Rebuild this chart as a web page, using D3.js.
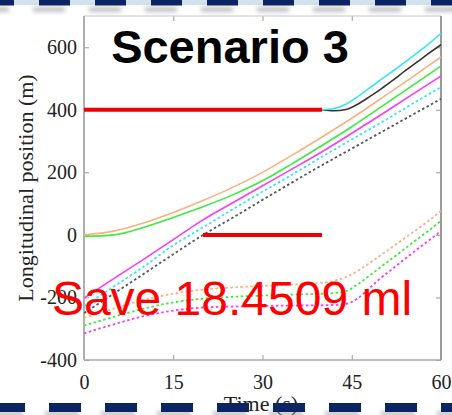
<!DOCTYPE html>
<html>
<head>
<meta charset="utf-8">
<script src="https://cdn.jsdelivr.net/npm/d3@7"></script>
<style>
  html, body { margin: 0; padding: 0; background: #fff; }
  svg { display: block; }
</style>
</head>
<body>
<div id="chart"></div>
<script>
// time grids (s)
const tMain = [0, 5, 10, 15, 20, 25, 30, 35, 40, 45, 50, 55, 60];
const tMerge = [40, 42, 44, 46, 48, 50, 52, 54, 56, 58, 60];
const tLow = [0, 5, 10, 15, 20, 25, 30, 35, 40, 42, 44, 46, 48, 50, 52, 54, 56, 58, 60];

// longitudinal positions (m)
const orangeSolid = [0, 12, 38, 72, 110, 152, 200, 255, 313, 373, 437, 502, 569];
const greenSolid = [-5, 0, 24, 56, 90, 128, 173, 228, 286, 346, 410, 475, 540];
const magentaSolid = [-202, -140, -78, -15, 48, 103, 157, 211, 266, 325, 385, 447, 508];
const cyanDotted = [-228, -165, -102, -33, 24, 82, 138, 193, 250, 305, 360, 417, 473];
const blackDotted = [-250, -188, -125, -62, 0, 55, 112, 168, 223, 276, 329, 382, 435];

const cyanSolid = [400, 404, 418, 442, 470, 498, 525, 553, 582, 612, 645];
const blackSolid = [400, 397, 401, 418, 442, 468, 496, 525, 553, 581, 608];

const orangeDotted = [-265, -236, -208, -188, -175, -168, -163, -159, -153, -147, -135, -115, -90, -63, -36, -9, 18, 46, 77];
const greenDotted = [-290, -262, -236, -216, -204, -198, -194, -191, -188, -186, -180, -158, -130, -101, -72, -43, -14, 15, 45];
const magentaDotted = [-315, -286, -260, -242, -232, -229, -227, -226, -225, -224, -221, -203, -170, -136, -106, -76, -46, -17, 12];

// red reference segments
const redTopT = [0, 40];
const redTopV = [400, 400];
const redLowT = [20, 40];
const redLowV = [0, 0];

const xTicks = [0, 15, 30, 45, 60];
const yTicks = [-400, -200, 0, 200, 400, 600];

const width = 452, height = 415;
const margin = {top: 16, right: 11, bottom: 55, left: 84};

const svg = d3.select('#chart').append('svg')
  .attr('width', width)
  .attr('height', height);

const defs = svg.append('defs');
defs.append('clipPath').attr('id', 'plotclip')
  .append('rect')
  .attr('x', margin.left).attr('y', margin.top)
  .attr('width', width - margin.left - margin.right)
  .attr('height', height - margin.top - margin.bottom);
defs.append('filter').attr('id', 'blur')
  .attr('x', '-50%').attr('y', '-100%').attr('width', '200%').attr('height', '300%')
  .append('feGaussianBlur').attr('stdDeviation', 2);

const x = d3.scaleLinear().domain([0, 60]).range([margin.left, width - margin.right]);
const y = d3.scaleLinear().domain([-400, 700]).range([height - margin.bottom, margin.top]);

// axes (MATLAB style, ticks inside)
const serif = '"Liberation Serif", "Times New Roman", serif';
const fmt = d => String(d);

const xAxis = svg.append('g')
  .attr('transform', `translate(0,${y(-400)})`)
  .call(d3.axisBottom(x).tickValues(xTicks).tickFormat(fmt).tickSizeInner(-5).tickSizeOuter(0).tickPadding(15));
const yAxis = svg.append('g')
  .attr('transform', `translate(${x(0)},0)`)
  .call(d3.axisLeft(y).tickValues(yTicks).tickFormat(fmt).tickSizeInner(-5).tickSizeOuter(0).tickPadding(7));
const xTop = svg.append('g')
  .attr('transform', `translate(0,${y(700)})`)
  .call(d3.axisTop(x).tickValues(xTicks).tickSizeInner(-5).tickSizeOuter(0).tickFormat(''));
const yRight = svg.append('g')
  .attr('transform', `translate(${x(60)},0)`)
  .call(d3.axisRight(y).tickValues(yTicks).tickSizeInner(-5).tickSizeOuter(0).tickFormat(''));

[xAxis, yAxis, xTop, yRight].forEach(a => {
  a.select('.domain').remove();
  a.selectAll('.tick line').attr('stroke', '#999').attr('stroke-width', 1);
  a.selectAll('.tick text')
    .attr('fill', '#222')
    .style('font-family', serif)
    .style('font-size', '20px');
});

// box
svg.append('line').attr('x1', x(0)).attr('x2', x(60)).attr('y1', y(700)).attr('y2', y(700))
  .attr('stroke', '#c8c8c8').attr('stroke-width', 1);
svg.append('line').attr('x1', x(0)).attr('x2', x(60)).attr('y1', y(-400)).attr('y2', y(-400))
  .attr('stroke', '#aaa').attr('stroke-width', 1.5);
svg.append('line').attr('x1', x(0)).attr('x2', x(0)).attr('y1', y(700)).attr('y2', y(-400))
  .attr('stroke', '#b0b0b0').attr('stroke-width', 2);
svg.append('line').attr('x1', x(60)).attr('x2', x(60)).attr('y1', y(700)).attr('y2', y(-400))
  .attr('stroke', '#999').attr('stroke-width', 2);

// lines
const plot = svg.append('g').attr('clip-path', 'url(#plotclip)');
const line = d3.line().x(d => x(d[0])).y(d => y(d[1])).curve(d3.curveMonotoneX);

const series = [
  {t: tLow, v: orangeDotted, color: '#f7b282', dash: '2.5,2.5'},
  {t: tLow, v: greenDotted, color: '#3dea3d', dash: '2.5,2.5'},
  {t: tLow, v: magentaDotted, color: '#f53ef5', dash: '2.5,2.5'},
  {t: tMain, v: blackDotted, color: '#555', dash: '2.5,2.5'},
  {t: tMain, v: cyanDotted, color: '#35e6f2', dash: '2.5,2.5'},
  {t: tMain, v: magentaSolid, color: '#f53ef5', dash: null},
  {t: tMain, v: greenSolid, color: '#3dea3d', dash: null},
  {t: tMain, v: orangeSolid, color: '#f7b282', dash: null},
  {t: tMerge, v: blackSolid, color: '#333', dash: null},
  {t: tMerge, v: cyanSolid, color: '#35e6f2', dash: null}
];

series.forEach(s => {
  plot.append('path')
    .datum(s.t.map((t, i) => [t, s.v[i]]))
    .attr('d', line)
    .attr('fill', 'none')
    .attr('stroke', s.color)
    .attr('stroke-width', s.dash ? 1.8 : 1.6)
    .attr('stroke-dasharray', s.dash);
});

[[redTopT, redTopV], [redLowT, redLowV]].forEach(([t, v]) => {
  plot.append('path')
    .datum(t.map((d, i) => [d, v[i]]))
    .attr('d', d3.line().x(d => x(d[0])).y(d => y(d[1])))
    .attr('fill', 'none')
    .attr('stroke', '#ee0000')
    .attr('stroke-width', 4);
});

// axis labels
svg.append('text')
  .attr('x', 261).attr('y', 411)
  .attr('text-anchor', 'middle')
  .style('font-family', serif).style('font-size', '22px').attr('fill', '#222')
  .text('Time (s)');
svg.append('text')
  .attr('transform', 'translate(33,188) rotate(-90)')
  .attr('text-anchor', 'middle')
  .style('font-family', serif).style('font-size', '22px').attr('fill', '#222')
  .text('Longitudinal position (m)');

// annotations
svg.append('text')
  .attr('x', 230).attr('y', 63)
  .attr('text-anchor', 'middle')
  .style('font-family', '"Liberation Sans", Arial, sans-serif')
  .style('font-weight', 'bold').style('font-size', '47px')
  .attr('fill', '#000')
  .text('Scenario 3');
svg.append('text')
  .attr('x', 232).attr('y', 315)
  .attr('text-anchor', 'middle')
  .style('font-family', '"Liberation Sans", Arial, sans-serif')
  .style('font-size', '48px')
  .attr('fill', '#ff0000')
  .text('Save 18.4509 ml');

// dashed frame decorations
const topDashes = d3.range(-17, width, 56);
const bottomDashes = d3.range(-7, width, 56);

svg.append('rect').attr('x', 0).attr('y', 0).attr('width', width).attr('height', 5)
  .attr('fill', '#d3e2ef');
svg.append('g').selectAll('rect').data(topDashes).join('rect')
  .attr('x', d => d - 6).attr('y', 7).attr('width', 32).attr('height', 5)
  .attr('fill', '#999').attr('opacity', 0.6).attr('filter', 'url(#blur)');
svg.append('g').selectAll('rect').data(topDashes).join('rect')
  .attr('x', d => d).attr('y', 0).attr('width', 31).attr('height', 5.5)
  .attr('fill', '#0c2461');

svg.append('g').selectAll('rect').data(bottomDashes).join('rect')
  .attr('x', d => d - 4).attr('y', 411).attr('width', 34).attr('height', 5)
  .attr('fill', '#999').attr('opacity', 0.6).attr('filter', 'url(#blur)');
svg.append('g').selectAll('rect').data(bottomDashes).join('rect')
  .attr('x', d => d).attr('y', 403).attr('width', 32).attr('height', 9)
  .attr('fill', '#0c2461');
</script>
</body>
</html>
